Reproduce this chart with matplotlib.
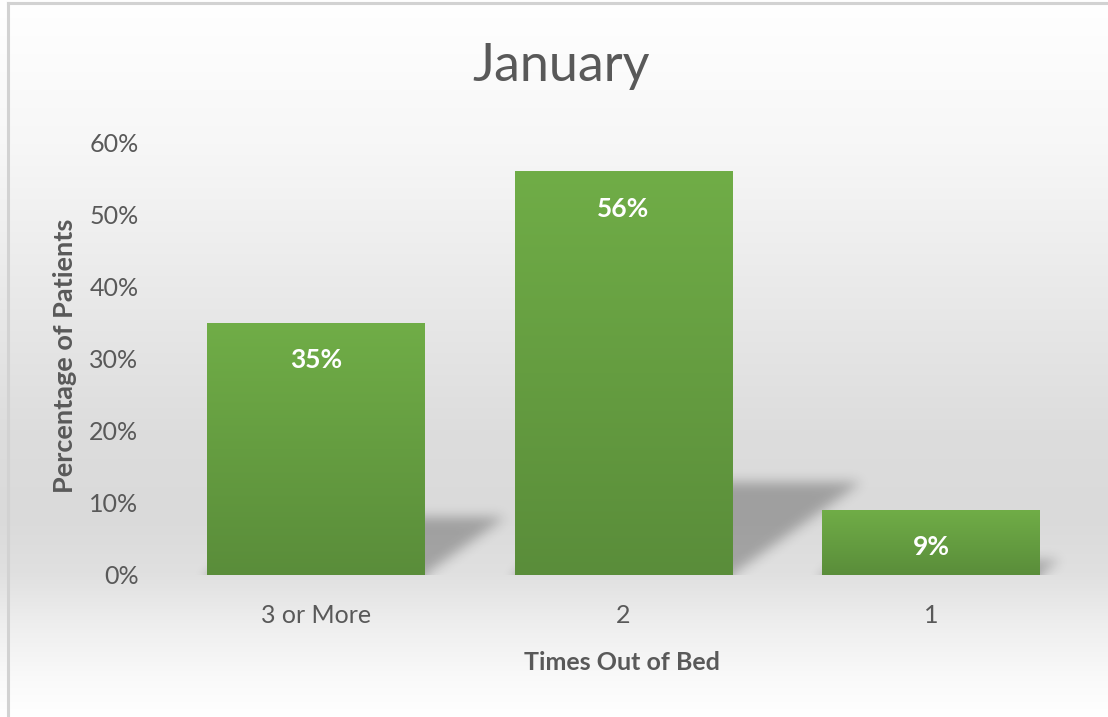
import numpy as np
import matplotlib
matplotlib.use('Agg')
import matplotlib.pyplot as plt
from matplotlib.colors import to_rgb

# ---- data ----
categories = ['3 or More', '2', '1']
values = [0.35, 0.56, 0.09]
yticks = [0.0, 0.1, 0.2, 0.3, 0.4, 0.5, 0.6]
ytick_labels = ['0%', '10%', '20%', '30%', '40%', '50%', '60%']
title = 'January'
xlabel = 'Times Out of Bed'
ylabel = 'Percentage of Patients'

plt.rcParams['font.family'] = ['Lato', 'DejaVu Sans']

W, H = 1108, 717
fig = plt.figure(figsize=(W / 100, H / 100), dpi=100)

# ---- background gradient ----
bg = fig.add_axes([0, 0, 1, 1], zorder=-10)
stops_y = [0.0, 0.05, 0.2, 0.4, 0.6, 0.72, 0.8, 0.87, 0.95, 1.0]
stops_v = [255, 253, 247, 234, 221, 218, 224, 238, 250, 255]
yy = np.linspace(0, 1, H)
vals = np.interp(yy, stops_y, stops_v) / 255.0
img = np.repeat(np.repeat(vals[:, None, None], 3, axis=2), 4, axis=1)
bg.imshow(img, aspect='auto', extent=[0, 1, 0, 1], origin='upper',
          interpolation='bilinear')
bg.plot([8 / W, 1], [1 - 3 / H, 1 - 3 / H], color='#d2d2d2', lw=2.2)
bg.plot([8 / W, 8 / W], [0, 1 - 3 / H], color='#d2d2d2', lw=2.2)
bg.set_xlim(0, 1)
bg.set_ylim(0, 1)
bg.set_axis_off()

# ---- main axes ----
ax_left, ax_right, ax_top, ax_bottom = 162, 1085, 143, 575
ax = fig.add_axes([ax_left / W, 1 - ax_bottom / H,
                   (ax_right - ax_left) / W, (ax_bottom - ax_top) / H])
ax.patch.set_alpha(0)
x = np.arange(len(categories))
for s in ax.spines.values():
    s.set_visible(False)

bar_w = 0.708
bars = ax.bar(x, values, width=bar_w, color='#66a040', zorder=3)

# per-bar vertical gradient
top_c = np.array(to_rgb('#70ad47'))
bot_c = np.array(to_rgb('#5a8d3a'))
t = np.linspace(0, 1, 256)[:, None]
grad = (top_c[None, :] * (1 - t) + bot_c[None, :] * t)[:, None, :]
for b in bars:
    x0, y0 = b.get_x(), b.get_y()
    bw, bh = b.get_width(), b.get_height()
    ax.imshow(grad, extent=[x0, x0 + bw, y0, y0 + bh], origin='upper',
              aspect='auto', zorder=3.5, interpolation='bilinear')

# ---- perspective shadows (blurred) ----
Nx, Ny = ax_right - ax_left, ax_bottom - ax_top
xs = np.linspace(-0.5, len(categories) - 0.5, Nx)
ys = np.linspace(0, 0.6, Ny)
X, Y = np.meshgrid(xs, ys)
mask = np.zeros_like(X)
k_h = 0.23      # shadow height relative to bar
skew = 0.75     # horizontal shift of shadow top per unit of bar height
for xi, v in zip(x, values):
    sh = k_h * v
    off = Y * (skew / k_h)
    m = (Y <= sh) & (X >= xi - bar_w / 2 + off) & (X <= xi + bar_w / 2 + off)
    mask[m] = 1.0
sigma = 6.0
kx = np.arange(-3 * int(sigma), 3 * int(sigma) + 1)
kern = np.exp(-kx ** 2 / (2 * sigma ** 2))
kern /= kern.sum()
pad = len(kern)
mpad = np.pad(mask, ((pad, pad), (pad, pad)), mode='constant')
mpad[:pad, :] = mpad[pad:pad + 1, :]
blur = np.apply_along_axis(lambda r: np.convolve(r, kern, mode='same'), 1, mpad)
blur = np.apply_along_axis(lambda c: np.convolve(c, kern, mode='same'), 0, blur)
blur = blur[pad:-pad, pad:-pad]
rgba = np.zeros((Ny, Nx, 4))
rgba[..., 3] = blur * 0.27
ax.imshow(rgba, extent=[xs[0], xs[-1], 0, 0.6], origin='lower', aspect='auto',
          zorder=2, interpolation='bilinear')
ax.set_xlim(-0.5, len(categories) - 0.5)
ax.set_ylim(0, 0.6)

# ---- data labels ----
for xi, v in zip(x, values):
    ax.annotate(f'{v:.0%}', xy=(xi, v), xytext=(0, -37), textcoords='offset pixels',
                ha='center', va='center', color='white', fontweight='bold',
                fontsize=19, zorder=5)

# ---- ticks ----
ax.set_yticks(yticks, ytick_labels)
ax.set_xticks(x, categories)
ax.tick_params(axis='both', length=0, labelsize=18, labelcolor='#595959')
ax.tick_params(axis='y', pad=17)
ax.tick_params(axis='x', pad=21)

# ---- texts ----
fig.text(561 / W, 1 - 67 / H, title, ha='center', va='center',
         fontsize=37.5, color='#595959')
fig.text(622 / W, 1 - 662 / H, xlabel, ha='center', va='center',
         fontsize=18, fontweight='bold', color='#595959')
fig.text(65 / W, 1 - 356 / H, ylabel, ha='center', va='center', rotation=90,
         fontsize=19.5, fontweight='bold', color='#595959')

fig.savefig('out.png', dpi=100)
